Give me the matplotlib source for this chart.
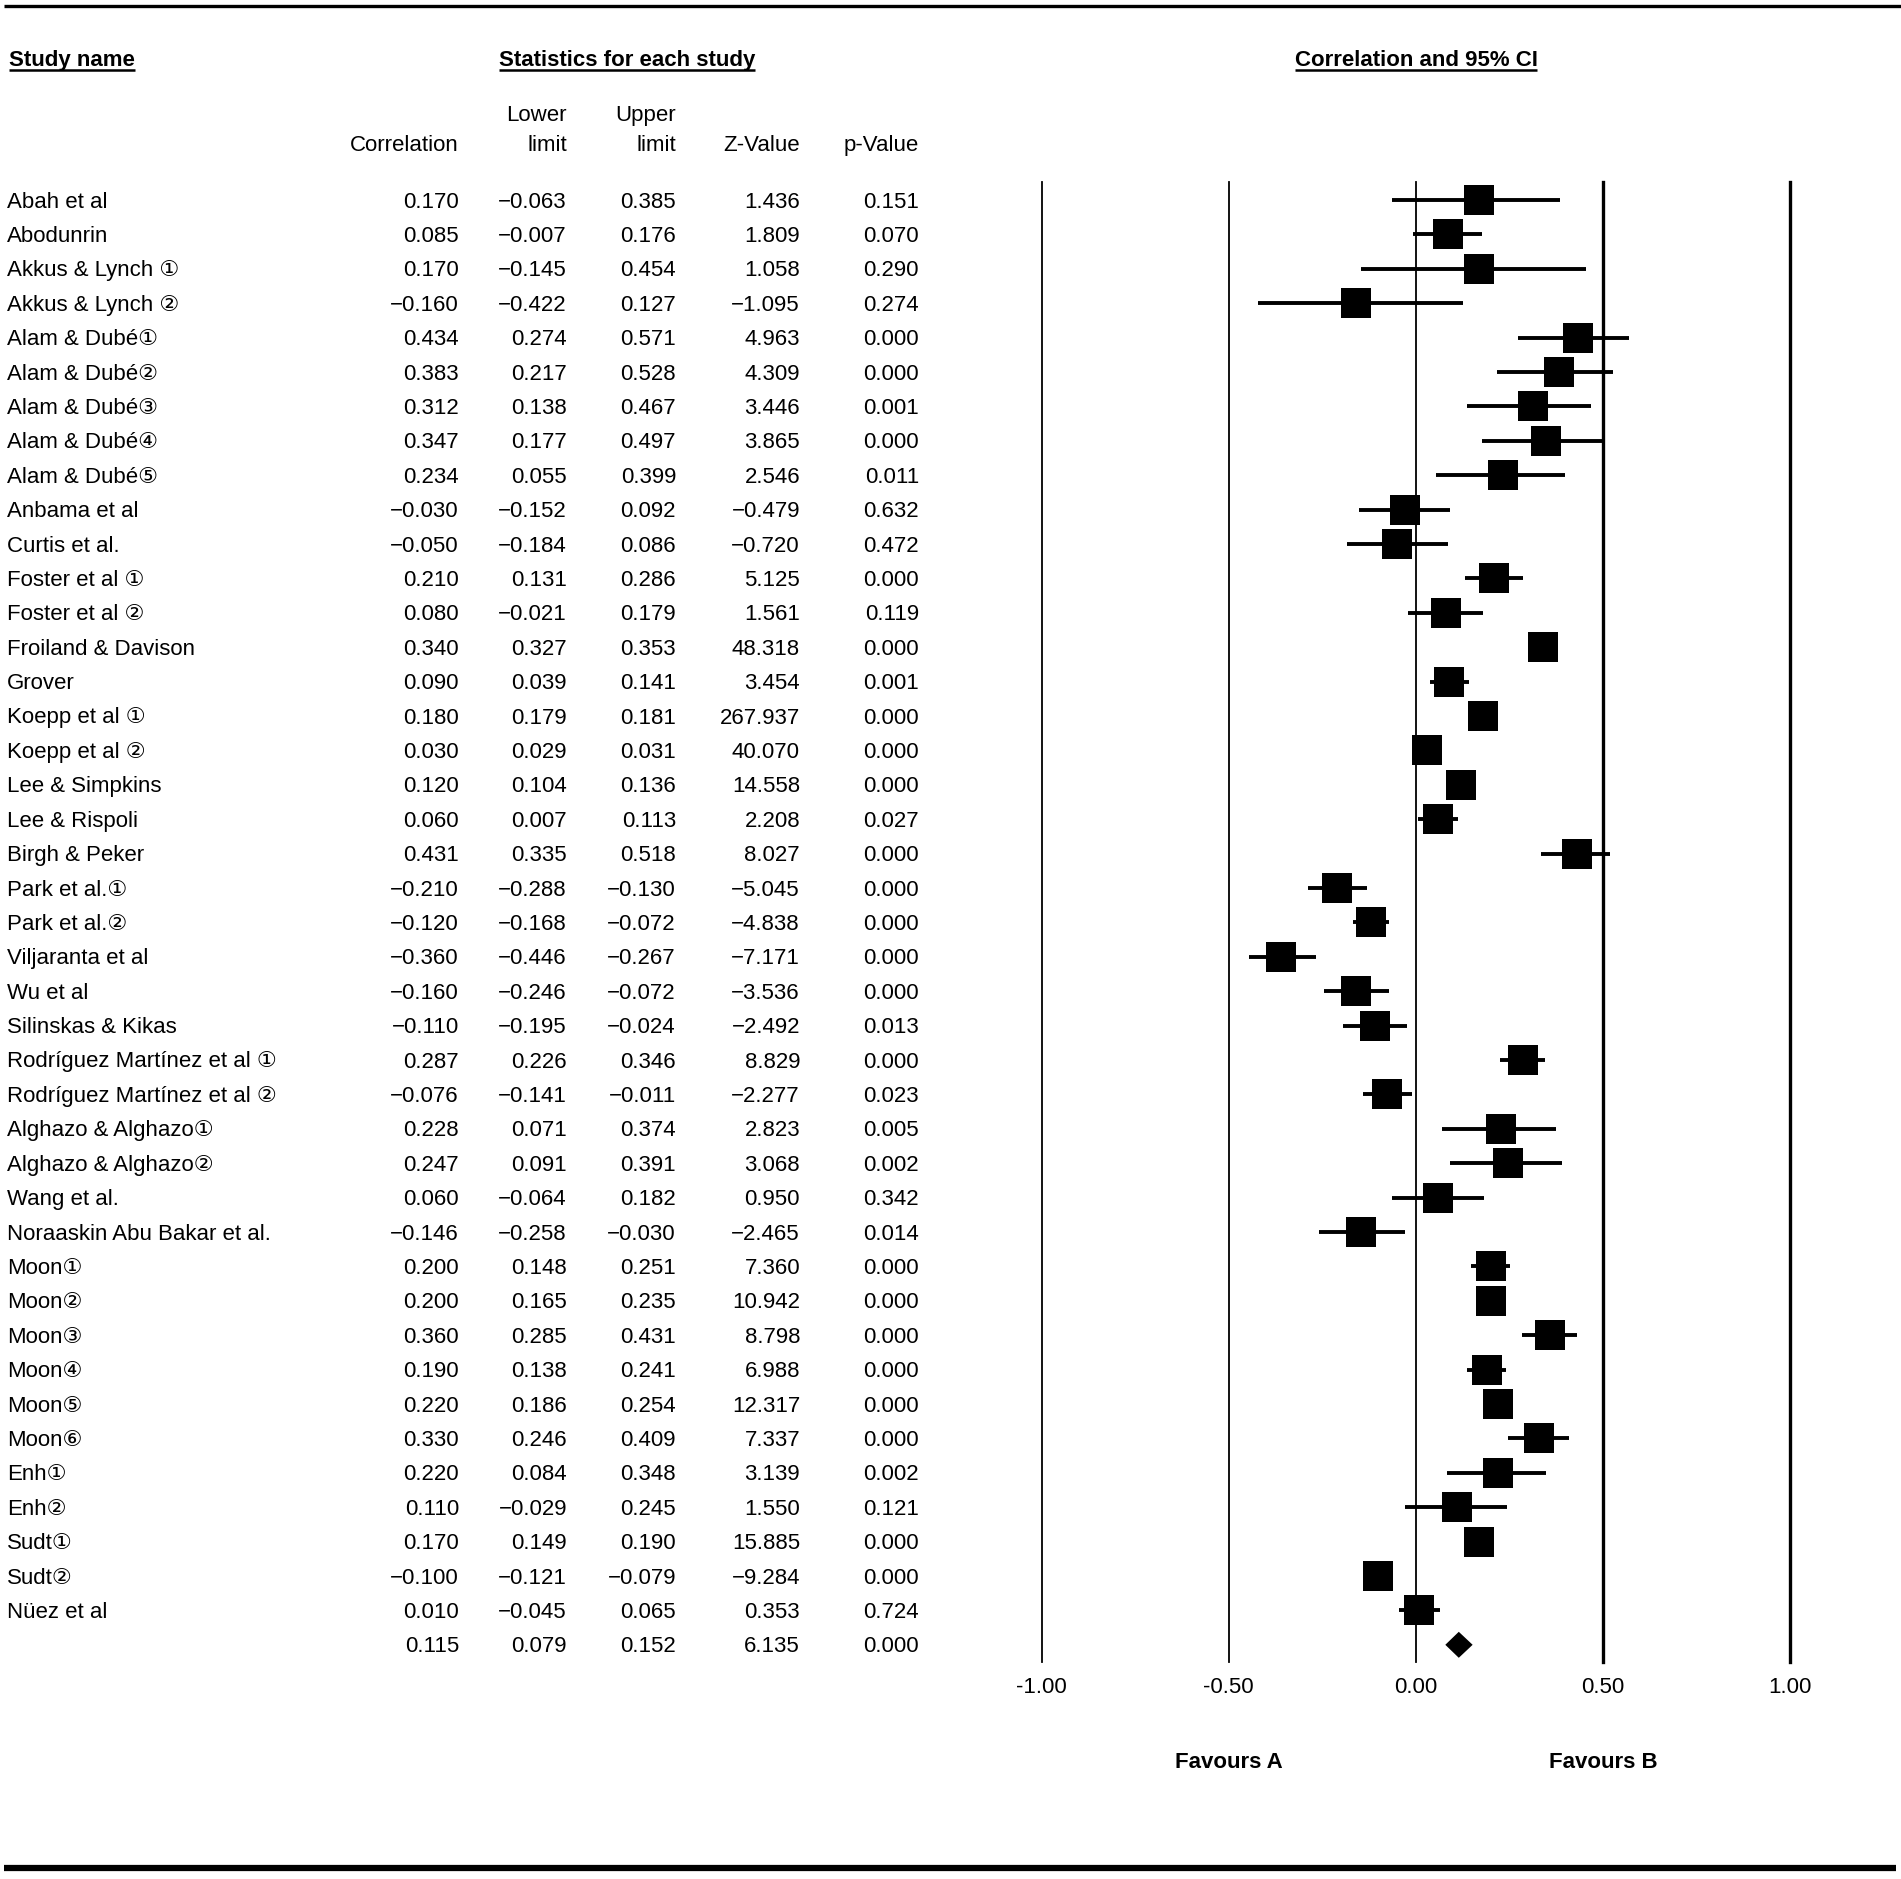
import matplotlib
matplotlib.use("Agg")
import matplotlib.pyplot as plt
from matplotlib.patches import Polygon

plt.rcParams['font.family'] = ['Liberation Sans', 'DejaVu Sans']

studies = [
    "Abah et al", "Abodunrin", "Akkus & Lynch \u2460", "Akkus & Lynch \u2461",
    "Alam & Dubé\u2460", "Alam & Dubé\u2461", "Alam & Dubé\u2462",
    "Alam & Dubé\u2463", "Alam & Dubé\u2464", "Anbama et al", "Curtis et al.",
    "Foster et al \u2460", "Foster et al \u2461", "Froiland & Davison",
    "Grover", "Koepp et al \u2460", "Koepp et al \u2461", "Lee & Simpkins",
    "Lee & Rispoli", "Birgh & Peker", "Park et al.\u2460", "Park et al.\u2461",
    "Viljaranta et al", "Wu et al", "Silinskas & Kikas",
    "Rodríguez Martínez et al \u2460", "Rodríguez Martínez et al \u2461",
    "Alghazo & Alghazo\u2460", "Alghazo & Alghazo\u2461", "Wang et al.",
    "Noraaskin Abu Bakar et al.", "Moon\u2460", "Moon\u2461", "Moon\u2462",
    "Moon\u2463", "Moon\u2464", "Moon\u2465", "Enh\u2460", "Enh\u2461",
    "Sudt\u2460", "Sudt\u2461", "Nüez et al",
]
correlation = [
    0.170, 0.085, 0.170, -0.160, 0.434, 0.383, 0.312, 0.347, 0.234, -0.030,
    -0.050, 0.210, 0.080, 0.340, 0.090, 0.180, 0.030, 0.120, 0.060, 0.431,
    -0.210, -0.120, -0.360, -0.160, -0.110, 0.287, -0.076, 0.228, 0.247,
    0.060, -0.146, 0.200, 0.200, 0.360, 0.190, 0.220, 0.330, 0.220, 0.110,
    0.170, -0.100, 0.010,
]
lower = [
    -0.063, -0.007, -0.145, -0.422, 0.274, 0.217, 0.138, 0.177, 0.055, -0.152,
    -0.184, 0.131, -0.021, 0.327, 0.039, 0.179, 0.029, 0.104, 0.007, 0.335,
    -0.288, -0.168, -0.446, -0.246, -0.195, 0.226, -0.141, 0.071, 0.091,
    -0.064, -0.258, 0.148, 0.165, 0.285, 0.138, 0.186, 0.246, 0.084, -0.029,
    0.149, -0.121, -0.045,
]
upper = [
    0.385, 0.176, 0.454, 0.127, 0.571, 0.528, 0.467, 0.497, 0.399, 0.092,
    0.086, 0.286, 0.179, 0.353, 0.141, 0.181, 0.031, 0.136, 0.113, 0.518,
    -0.130, -0.072, -0.267, -0.072, -0.024, 0.346, -0.011, 0.374, 0.391,
    0.182, -0.030, 0.251, 0.235, 0.431, 0.241, 0.254, 0.409, 0.348, 0.245,
    0.190, -0.079, 0.065,
]
z_value = [
    1.436, 1.809, 1.058, -1.095, 4.963, 4.309, 3.446, 3.865, 2.546, -0.479,
    -0.720, 5.125, 1.561, 48.318, 3.454, 267.937, 40.070, 14.558, 2.208,
    8.027, -5.045, -4.838, -7.171, -3.536, -2.492, 8.829, -2.277, 2.823,
    3.068, 0.950, -2.465, 7.360, 10.942, 8.798, 6.988, 12.317, 7.337, 3.139,
    1.550, 15.885, -9.284, 0.353,
]
p_value = [
    0.151, 0.070, 0.290, 0.274, 0.000, 0.000, 0.001, 0.000, 0.011, 0.632,
    0.472, 0.000, 0.119, 0.000, 0.001, 0.000, 0.000, 0.000, 0.027, 0.000,
    0.000, 0.000, 0.000, 0.000, 0.013, 0.000, 0.023, 0.005, 0.002, 0.342,
    0.014, 0.000, 0.000, 0.000, 0.000, 0.000, 0.000, 0.002, 0.121, 0.000,
    0.000, 0.724,
]
pooled_corr = 0.115
pooled_lower = 0.079
pooled_upper = 0.152
pooled_z = 6.135
pooled_p = 0.000

tick_values = [-1.0, -0.5, 0.0, 0.5, 1.0]
tick_labels = ["-1.00", "-0.50", "0.00", "0.50", "1.00"]
column_heads = [("", "Correlation"), ("Lower", "limit"), ("Upper", "limit"),
                ("", "Z-Value"), ("", "p-Value")]

# page geometry, pixels
W, H = 1901, 1879
ROW0, ROWH = 200, 34.4
COL_RIGHT = [459, 567, 676, 800, 919]
FS = 16
CAP = 7.5  # half the cap height, to put the baseline under a row centre


def fmt(v):
    return f"{v:.3f}".replace("-", "\u2212")


fig = plt.figure(figsize=(W / 100, H / 100), dpi=100)
page = fig.add_axes([0, 0, 1, 1])
page.set_xlim(0, W)
page.set_ylim(H, 0)
page.axis('off')

# rules
page.plot([4, W], [6, 6], color='black', lw=2.4, solid_capstyle='butt')
page.plot([4, 1896], [1868, 1868], color='black', lw=4.5, solid_capstyle='butt')

# headers
heads = [
    page.text(9, 58 + CAP, "Study name", fontsize=FS, fontweight='bold',
              ha='left', va='baseline'),
    page.text(627, 58 + CAP, "Statistics for each study", fontsize=FS,
              fontweight='bold', ha='center', va='baseline'),
    page.text(1416, 58 + CAP, "Correlation and 95% CI", fontsize=FS,
              fontweight='bold', ha='center', va='baseline'),
]
for (top, bottom), x in zip(column_heads, COL_RIGHT):
    if top:
        page.text(x, 113 + CAP, top, fontsize=FS, ha='right', va='baseline')
    page.text(x, 143 + CAP, bottom, fontsize=FS, ha='right', va='baseline')

# table rows
rows_y = [ROW0 + i * ROWH for i in range(len(studies))]
for name, y, vals in zip(studies, rows_y,
                         zip(correlation, lower, upper, z_value, p_value)):
    page.text(7, y + CAP, name, fontsize=FS, ha='left', va='baseline')
    for x, v in zip(COL_RIGHT, vals):
        page.text(x, y + CAP, fmt(v), fontsize=FS, ha='right', va='baseline')
pooled_y = ROW0 + len(studies) * ROWH
for x, v in zip(COL_RIGHT, [pooled_corr, pooled_lower, pooled_upper,
                            pooled_z, pooled_p]):
    page.text(x, pooled_y + CAP, fmt(v), fontsize=FS, ha='right', va='baseline')

# forest panel, y in page pixels
x_left, x_right = 1041.5, 1790
y_top, y_bottom = 182, 1662
ax = fig.add_axes([x_left / W, 1 - y_bottom / H,
                   (x_right - x_left) / W, (y_bottom - y_top) / H])
ax.set_xlim(-1, 1)
ax.set_ylim(y_bottom, y_top)
for s in ax.spines.values():
    s.set_visible(False)
ax.set_yticks([])
ax.set_xticks(tick_values, tick_labels)
ax.tick_params(axis='x', length=0, pad=11, labelsize=FS)

for v in tick_values:
    ax.axvline(v, color='black', lw=2.4 if v > 0 else 1.3, clip_on=False)

ax.hlines(rows_y, lower, upper, color='black', lw=2.8)
ax.plot(correlation, rows_y, 's', color='black', ms=21, mew=0)
ax.add_patch(Polygon([(pooled_lower, pooled_y), (pooled_corr, pooled_y - 13),
                      (pooled_upper, pooled_y), (pooled_corr, pooled_y + 13)],
                     closed=True, color='black', lw=0))

ax.text(-0.5, 1760 + CAP, "Favours A", fontsize=FS, fontweight='bold',
        ha='center', va='baseline')
ax.text(0.5, 1760 + CAP, "Favours B", fontsize=FS, fontweight='bold',
        ha='center', va='baseline')

# underline the group headers
fig.canvas.draw()
inv = page.transData.inverted()
for t in heads:
    bb = t.get_window_extent()
    (x0, _), (x1, _) = inv.transform([(bb.x0, bb.y0), (bb.x1, bb.y0)])
    page.plot([x0, x1], [70, 70], color='black', lw=1.8, solid_capstyle='butt')

fig.savefig("out.png", dpi=100)
